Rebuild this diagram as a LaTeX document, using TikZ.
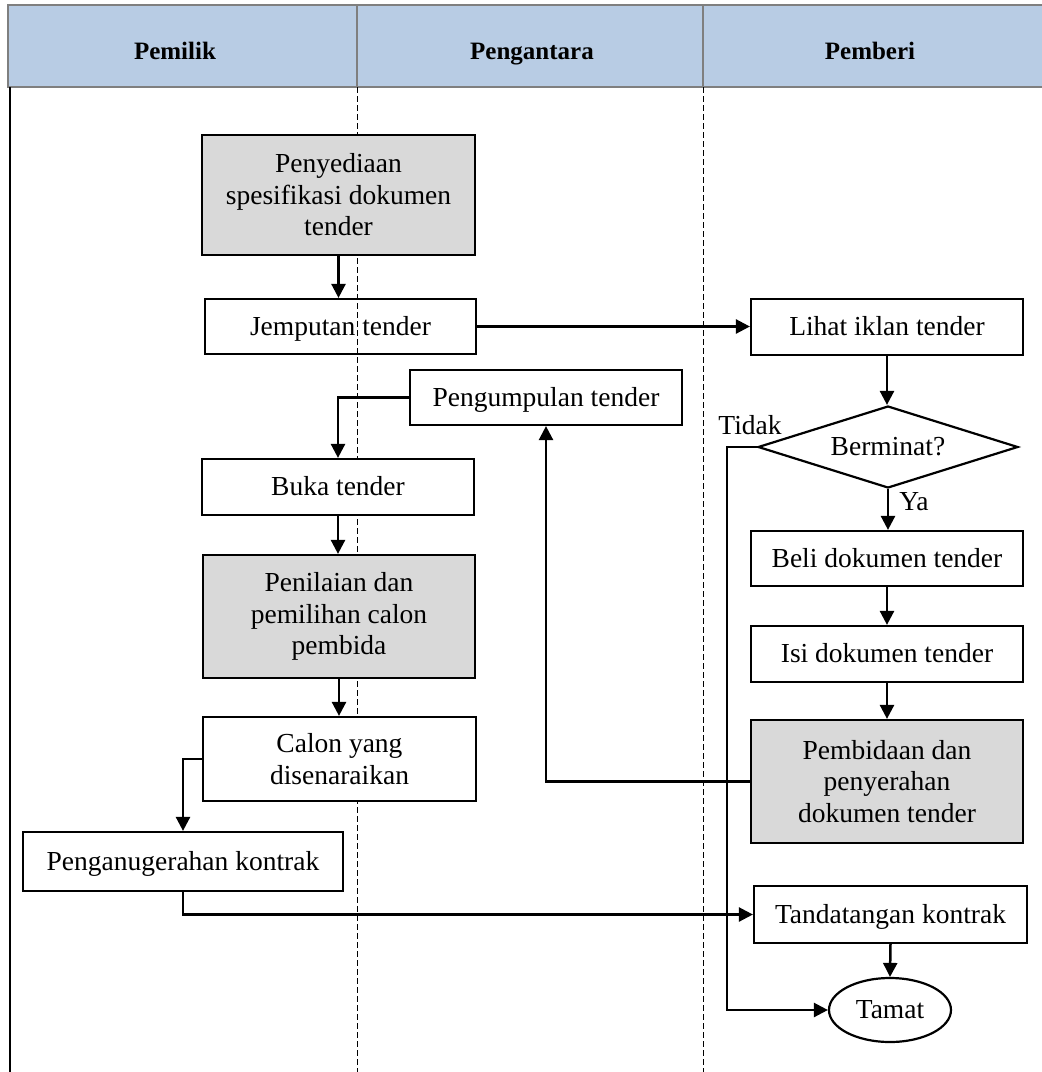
\documentclass[tikz,border=0pt]{standalone}
\usepackage{fontspec}
\setmainfont{Liberation Serif}
\usetikzlibrary{shapes.geometric,arrows.meta}
\definecolor{hdrblue}{HTML}{B8CCE4}
\definecolor{hdrgray}{HTML}{7F7F7F}
\definecolor{boxgray}{HTML}{D9D9D9}
\begin{document}
\begin{tikzpicture}[x=1pt,y=-1pt,
  every node/.style={font=\fontsize{27.5}{31.5}\selectfont},
  procbox/.style={draw=black,line width=2.2pt,fill=white,rectangle,inner sep=0pt,align=center},
  graybox/.style={procbox,fill=boxgray},
  oneline/.style={text height=21pt,text depth=4pt},
  hdrtext/.style={font=\fontsize{25}{30}\selectfont\bfseries,anchor=base},
  flow/.style={line width=2.5pt,-{Triangle[length=14pt,width=14pt]}},
  lane/.style={line width=0.9pt,dash pattern=on 6pt off 3pt}]
\useasboundingbox (0,0) rectangle (1042,1072);
\fill[white] (0,0) rectangle (1042,1072);
% header
\fill[hdrblue] (8,5) rectangle (1042,87);
\draw[hdrgray,line width=2.8pt] (1042,5) -- (8,5) -- (8,87) -- (1042,87);
\draw[hdrgray,line width=2.2pt] (357,5) -- (357,87) (703,5) -- (703,87);
\node[hdrtext] (h1) at (175,59) {Pemilik};
\node[hdrtext] (h2) at (532,59) {Pengantara};
\node[hdrtext] (h3) at (870,59) {Pemberi};
% lanes
\draw[lane] (357,87) -- (357,1072);
\draw[lane] (703,87) -- (703,1072);
\draw[line width=2pt] (10,87) -- (10,1072);
% nodes
\node[graybox,minimum width=273,minimum height=120] (pny) at (338.5,195) {Penyediaan\\spesifikasi dokumen\\tender};
\node[procbox,oneline,fill=none,minimum width=271,minimum height=55] (jem) at (340.5,326.5) {Jemputan tender};
\node[procbox,oneline,minimum width=272,minimum height=56] (lih) at (887,327) {Lihat iklan tender};
\node[procbox,oneline,minimum width=272,minimum height=55] (pgm) at (546,397.5) {Pengumpulan tender};
\node[draw=black,line width=2.2pt,diamond,aspect=3.2,inner sep=0pt,minimum width=260,minimum height=82,oneline] (dia) at (888,447) {Berminat?};
\node[procbox,oneline,minimum width=272,minimum height=56] (buka) at (338,487) {Buka tender};
\node[graybox,minimum width=272,minimum height=123] (pen) at (339,616.5) {Penilaian dan\\pemilihan calon\\pembida};
\node[procbox,minimum width=273,minimum height=84] (cal) at (339.5,759) {Calon yang\\disenaraikan};
\node[procbox,oneline,minimum width=320,minimum height=59] (pga) at (183,861.5) {Penganugerahan kontrak};
\node[procbox,oneline,minimum width=272,minimum height=55] (beli) at (887,558.5) {Beli dokumen tender};
\node[procbox,oneline,minimum width=272,minimum height=56] (isi) at (887,654) {Isi dokumen tender};
\node[graybox,minimum width=272,minimum height=123] (pmb) at (887,781.5) {Pembidaan dan\\penyerahan\\dokumen tender};
\node[procbox,oneline,minimum width=273,minimum height=57] (tdt) at (890.5,914.5) {Tandatangan kontrak};
\node[draw=black,line width=2.2pt,ellipse,inner sep=0pt,minimum width=122,minimum height=64,oneline] (tamat) at (890,1010) {Tamat};
\node[oneline] (tidak) at (750,426) {Tidak};
\node[oneline] (ya) at (914,502) {Ya};
\coordinate (tk) at (727,447);
% connectors
\draw[flow] (pny.south) -- (pny.south |- jem.north);
\draw[flow] (jem.east) -- (jem.east -| lih.west);
\draw[flow] (lih.south) -- (lih.south |- dia.north);
\draw[flow] (dia.south) -- (dia.south |- beli.north);
\draw[flow] (beli.south) -- (isi.north);
\draw[flow] (isi.south) -- (pmb.north);
\draw[flow] (pmb.west) -| (pgm.south);
\draw[flow] (pgm.west) -| (buka.north);
\draw[flow] (buka.south) -- (buka.south |- pen.north);
\draw[flow] (pen.south) -- (pen.south |- cal.north);
\draw[flow] (cal.west) -| (pga.north);
\draw[flow] (pga.south) |- (tdt.west);
\draw[flow] (tdt.south) -- (tamat.north);
\draw[flow] (dia.west) -- (tk) |- (tamat.west);
\end{tikzpicture}
\end{document}
